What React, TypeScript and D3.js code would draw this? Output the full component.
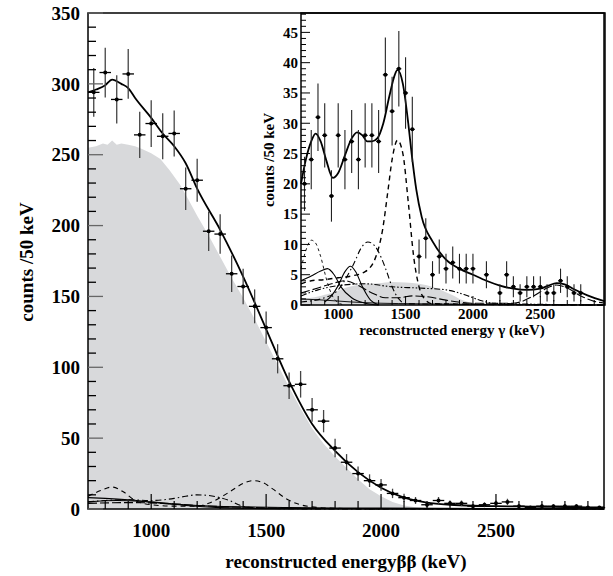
import React from "react";
import * as d3 from "d3";

// ---------- main panel data (ββ channel) ----------
const mainBins = [750, 800, 850, 900, 950, 1000, 1050, 1100, 1150, 1200, 1250, 1300, 1350, 1400, 1450, 1500, 1550, 1600, 1650, 1700, 1750, 1800, 1850, 1900, 1950, 2000, 2050, 2100, 2150, 2200, 2250, 2300, 2350, 2400, 2450, 2500, 2550, 2600, 2650, 2700, 2750, 2800, 2850, 2900, 2950];
const mainCounts = [294, 308, 289, 307, 264, 272, 263, 265, 226, 232, 196, 194, 166, 157, 143, 128, 106, 87, 88, 70, 62, 43, 33, 25, 20, 17, 11, 8, 6, 3, 6, 4, 4, 2, 3, 4, 5, 2, 1, 2, 2, 2, 2, 1, 1];

const mainFitX = [725, 760, 800, 830, 870, 900, 930, 1000, 1050, 1100, 1150, 1200, 1300, 1400, 1500, 1600, 1700, 1800, 1900, 2000, 2100, 2200, 2300, 2400, 2500, 2600, 2700, 2800, 2900, 2970];
const mainFitY = [294, 296, 299, 303, 300, 297, 290, 276, 265, 256, 244, 226, 197, 164, 127, 90, 60, 41, 26, 15, 8, 4.5, 3, 2.3, 2, 1.8, 1.6, 1.4, 1.2, 1.1];

const mainMcX = [725, 760, 790, 810, 830, 850, 870, 900, 930, 960, 1000, 1040, 1080, 1125, 1160, 1200, 1250, 1300, 1350, 1400, 1450, 1500, 1550, 1600, 1650, 1700, 1750, 1800, 1850, 1900, 1950, 2000, 2050, 2100, 2150, 2200, 2250];
const mainMcY = [255, 256, 258, 257, 260, 257, 258, 257, 256, 254, 251, 247, 239, 229, 219, 207, 193, 178, 163, 149, 134, 118, 102, 86, 71, 57, 46, 37, 29, 21, 14, 9, 5, 2.5, 1.2, 0.4, 0];

const mainDashX = [725, 780, 830, 880, 930, 1000, 1100, 1200, 1250, 1300, 1350, 1400, 1440, 1480, 1530, 1580, 1630, 1700, 1800, 2000, 2970];
const mainDashY = [9, 13, 15.5, 12, 6, 3, 2, 2, 4, 8, 13, 18, 20, 19, 14, 8, 4, 1.5, 0.5, 0.2, 0.1];
const mainDashDotX = [725, 800, 900, 1000, 1100, 1150, 1200, 1250, 1300, 1340, 1380, 1420, 1500, 1700, 2970];
const mainDashDotY = [5, 6, 6.5, 6, 7.5, 9, 10, 9.5, 8, 6, 3, 1.2, 0.4, 0.1, 0];
const mainSolidAX = [725, 800, 900, 1000, 1100, 1200, 1400, 1600, 2000, 2500, 2970];
const mainSolidAY = [8, 7.5, 6.5, 5, 3.5, 2.5, 1.5, 1, 0.6, 0.3, 0.2];
const mainSolidBX = [725, 850, 950, 1050, 1150, 1300, 1500, 2970];
const mainSolidBY = [5, 6, 5.5, 4, 2.5, 1, 0.3, 0];
const mainLongDashX = [725, 900, 1050, 1200, 1400, 1700, 2970];
const mainLongDashY = [4, 4.5, 4, 2.5, 1.2, 0.4, 0];

const mainYTicks = [0, 50, 100, 150, 200, 250, 300, 350];
const mainXTicks = [1000, 1500, 2000, 2500];

// ---------- inset data (γ channel) ----------
const insetBins = [750, 800, 850, 900, 950, 1000, 1050, 1100, 1150, 1200, 1250, 1300, 1350, 1400, 1450, 1500, 1550, 1600, 1650, 1700, 1750, 1800, 1850, 1900, 1950, 2000, 2100, 2200, 2250, 2300, 2350, 2400, 2450, 2500, 2550, 2600, 2650, 2700, 2750, 2800];
const insetCounts = [20, 24, 31, 28, 18, 28, 24, 27, 24, 28, 28, 27, 38, 32, 39, 35, 29, 8, 11, 5, 8, 6, 7, 6, 6, 6, 5, 2, 5, 3, 2, 3, 3, 3, 2, 2, 4, 3, 2, 2];

const insetFitX = [724, 760, 800, 832, 870, 910, 960, 1000, 1050, 1100, 1140, 1180, 1215, 1250, 1290, 1335, 1380, 1420, 1440, 1480, 1520, 1545, 1580, 1620, 1700, 1800, 1900, 2000, 2100, 2200, 2300, 2400, 2500, 2560, 2620, 2680, 2750, 2850, 2980];
const insetFitY = [20, 24, 27, 28.3, 27, 24, 21, 21.8, 24.7, 27.5, 28.5, 28, 27, 27, 27.5, 30, 34.5, 38, 38.8, 36.5, 30, 25, 19, 14.5, 10.5, 7.5, 6, 5, 4, 3.2, 2.7, 2.5, 2.7, 3.2, 3.6, 3.4, 2.6, 1.6, 0.6];

const insetDashX = [724, 800, 900, 1000, 1100, 1200, 1280, 1330, 1370, 1400, 1440, 1480, 1520, 1560, 1600, 1650, 1700, 2980];
const insetDashY = [3.5, 4, 4.2, 4.5, 4.8, 5.5, 8, 12.5, 19, 24, 27.2, 25, 17, 8, 3, 0.8, 0.2, 0];
const insetThinDashX = [724, 760, 800, 830, 870, 910, 950, 1000, 1050];
const insetThinDashY = [6, 9, 10.7, 10.3, 8, 4.5, 1.8, 0.4, 0];
const insetDashDotX = [724, 900, 1000, 1060, 1120, 1170, 1220, 1270, 1320, 1360, 1400, 1450, 1500, 2980];
const insetDashDotY = [0.5, 1.2, 2.5, 4.5, 7, 9.4, 10.4, 9.8, 7.8, 5.5, 3, 1, 0.2, 0];
const insetDDotX = [724, 850, 1000, 1200, 1400, 1600, 1800, 1950, 2050, 2150, 2980];
const insetDDotY = [1.5, 2.5, 3.2, 3.5, 3, 2.8, 2.5, 1.6, 0.8, 0.3, 0];
const insetSolidPeakX = [900, 950, 1000, 1050, 1090, 1130, 1180, 1240, 1300];
const insetSolidPeakY = [0.5, 1.5, 3.2, 5.5, 6.4, 5.5, 3, 0.8, 0];
const insetSolidBX = [724, 800, 870, 920, 970, 1020, 1100, 1200, 1300];
const insetSolidBY = [4, 4.8, 5.6, 6, 5, 3, 1.2, 0.3, 0];
const insetLongDashX = [724, 850, 950, 1050, 1150, 1250, 1350, 1450, 1550, 1650, 1800, 2000, 2300, 2450, 2550, 2620, 2700, 2800, 2900, 2980];
const insetLongDashY = [2, 2.8, 3.5, 4, 3.2, 2, 1.2, 1.2, 1.5, 1.4, 0.8, 0.3, 0.3, 1.5, 2.8, 3.3, 2.8, 1.5, 0.6, 0.3];
const insetThinSolidX = [724, 900, 1100, 1300, 1600, 2000, 2980];
const insetThinSolidY = [1, 0.8, 0.5, 0.3, 0.2, 0.1, 0];
const insetMcX = [724, 800, 850, 900, 950, 1000, 1050, 1100, 1150, 1200, 1300, 1400, 1500, 1600, 1700, 1750, 1800, 1850, 1900, 1950, 2000, 2050];
const insetMcY = [1, 1.2, 1.4, 1.7, 2.0, 2.4, 2.8, 3.1, 3.3, 3.5, 3.6, 3.8, 3.7, 3.5, 3.0, 2.6, 2.1, 1.6, 1.0, 0.6, 0.2, 0];

const insetYTicks = [0, 5, 10, 15, 20, 25, 30, 35, 40, 45];
const insetXTicks = [1000, 1500, 2000, 2500];

const FONT = "'Liberation Serif', 'DejaVu Serif', serif";

function zip(xs: number[], ys: number[]) {
  return xs.map((x, i) => [x, ys[i]] as [number, number]);
}

export default function App() {
  const W = 613, H = 576;
  // main
  const mx = d3.scaleLinear().domain([725, 2970]).range([88, 604]);
  const my = d3.scaleLinear().domain([0, 350]).range([509, 13]);
  const mLine = d3.line<[number, number]>().x(d => mx(d[0])).y(d => my(Math.max(0, d[1]))).curve(d3.curveMonotoneX);
  const mArea = d3.area<[number, number]>().x(d => mx(d[0])).y0(my(0)).y1(d => my(d[1])).curve(d3.curveLinear);
  // inset
  const ix = d3.scaleLinear().domain([724, 2980]).range([301, 605]);
  const iy = d3.scaleLinear().domain([0, 48.2]).range([305, 13]);
  const iLine = d3.line<[number, number]>().x(d => ix(d[0])).y(d => iy(Math.max(0, d[1]))).curve(d3.curveMonotoneX);
  const iArea = d3.area<[number, number]>().x(d => ix(d[0])).y0(iy(0)).y1(d => iy(d[1])).curve(d3.curveMonotoneX);

  const mMinorY = d3.range(0, 351, 10);
  const mMinorX = d3.range(800, 2970, 100);
  const iMinorY = d3.range(0, 49, 1);
  const iMinorX = d3.range(800, 2980, 100);

  const [m0, m1] = my.range();
  const [i0, i1] = iy.range();

  return (
    <svg width={W} height={H} style={{ position: "absolute", left: 0, top: 0 }}>
      <rect x={0} y={0} width={W} height={H} fill="#fff" />
      {/* ===== main ===== */}
      <path d={mArea(zip(mainMcX, mainMcY)) || ""} fill="#d8d9db" />
      <g fill="none" stroke="#000" strokeWidth={1.1}>
        <path d={mLine(zip(mainDashX, mainDashY)) || ""} strokeDasharray="5,4" />
        <path d={mLine(zip(mainDashDotX, mainDashDotY)) || ""} strokeDasharray="6,3,1.5,3" />
        <path d={mLine(zip(mainSolidAX, mainSolidAY)) || ""} />
        <path d={mLine(zip(mainSolidBX, mainSolidBY)) || ""} />
        <path d={mLine(zip(mainLongDashX, mainLongDashY)) || ""} strokeDasharray="9,3" />
      </g>
      <path d={mLine(zip(mainFitX, mainFitY)) || ""} fill="none" stroke="#000" strokeWidth={1.8} />
      {mainBins.map((b, i) => {
        const v = mainCounts[i];
        const e = Math.sqrt(v);
        return (
          <g key={"m" + b}>
            <line x1={mx(b)} x2={mx(b)} y1={my(Math.max(0, v - e))} y2={my(v + e)} stroke="#444" strokeWidth={1.3} />
            <line x1={mx(b - 25)} x2={mx(b + 25)} y1={my(v)} y2={my(v)} stroke="#000" strokeWidth={1.3} />
            <circle cx={mx(b)} cy={my(v)} r={2} fill="#000" />
          </g>
        );
      })}
      {/* main frame and ticks */}
      <rect x={88} y={m1} width={604 - 88} height={m0 - m1} fill="none" stroke="#000" strokeWidth={1.5} />
      {mMinorY.map(t => (
        <line key={"my" + t} x1={88} x2={88 + (t % 50 === 0 ? 15 : 8)} y1={my(t)} y2={my(t)} stroke={t % 50 === 0 ? "#666" : "#000"} strokeWidth={1.3} />
      ))}
      {mMinorX.map(t => (
        <line key={"mx" + t} x1={mx(t)} x2={mx(t)} y1={m0} y2={m0 - (t % 500 === 0 ? 15 : 8)} stroke="#000" strokeWidth={1.2} />
      ))}
      {mainYTicks.map(t => (
        <text key={"myl" + t} x={80} y={my(t)} dy="0.35em" textAnchor="end" fontFamily={FONT} fontWeight="bold" fontSize={19}>{t}</text>
      ))}
      {mainXTicks.map(t => (
        <text key={"mxl" + t} x={mx(t)} y={537} textAnchor="middle" fontFamily={FONT} fontWeight="bold" fontSize={19}>{t}</text>
      ))}
      <text x={346} y={568} textAnchor="middle" fontFamily={FONT} fontWeight="bold" fontSize={19}>reconstructed energyββ (keV)</text>
      <text transform="translate(33,262) rotate(-90)" textAnchor="middle" fontFamily={FONT} fontWeight="bold" fontSize={19}>counts /50 keV</text>

      {/* ===== inset ===== */}
      <path d={iArea(zip(insetMcX, insetMcY)) || ""} fill="#d8d9db" />
      <g fill="none" stroke="#000" strokeWidth={1.1}>
        <path d={iLine(zip(insetThinSolidX, insetThinSolidY)) || ""} strokeWidth={0.9} />
        <path d={iLine(zip(insetDDotX, insetDDotY)) || ""} strokeDasharray="6,2,1.5,2,1.5,2" />
        <path d={iLine(zip(insetLongDashX, insetLongDashY)) || ""} strokeDasharray="9,3" />
        <path d={iLine(zip(insetSolidBX, insetSolidBY)) || ""} />
        <path d={iLine(zip(insetSolidPeakX, insetSolidPeakY)) || ""} />
        <path d={iLine(zip(insetDashDotX, insetDashDotY)) || ""} strokeDasharray="6,3,1.5,3" />
        <path d={iLine(zip(insetThinDashX, insetThinDashY)) || ""} strokeDasharray="3,3" strokeWidth={0.9} />
        <path d={iLine(zip(insetDashX, insetDashY)) || ""} strokeDasharray="5,4" strokeWidth={1.4} />
      </g>
      <path d={iLine(zip(insetFitX, insetFitY)) || ""} fill="none" stroke="#000" strokeWidth={1.8} />
      {insetBins.map((b, i) => {
        const v = insetCounts[i];
        const e = Math.sqrt(v);
        return (
          <g key={"i" + b}>
            <line x1={ix(b)} x2={ix(b)} y1={iy(Math.max(0, v - e))} y2={iy(v + e)} stroke="#222" strokeWidth={1.1} />
            <line x1={ix(b) - 2.5} x2={ix(b) + 2.5} y1={iy(v)} y2={iy(v)} stroke="#000" strokeWidth={1.1} />
            <circle cx={ix(b)} cy={iy(v)} r={2} fill="#000" />
          </g>
        );
      })}
      <rect x={301} y={i1} width={605 - 301} height={i0 - i1} fill="none" stroke="#000" strokeWidth={1.5} />
      {iMinorY.map(t => (
        <line key={"iy" + t} x1={301} x2={301 + (t % 5 === 0 ? 9 : 5)} y1={iy(t)} y2={iy(t)} stroke="#000" strokeWidth={1} />
      ))}
      {iMinorX.map(t => (
        <line key={"ix" + t} x1={ix(t)} x2={ix(t)} y1={i0} y2={i0 - (t % 500 === 0 ? 9 : 5)} stroke="#000" strokeWidth={1} />
      ))}
      {insetYTicks.map(t => (
        <text key={"iyl" + t} x={298} y={iy(t)} dy="0.35em" textAnchor="end" fontFamily={FONT} fontWeight="bold" fontSize={15}>{t}</text>
      ))}
      {insetXTicks.map(t => (
        <text key={"ixl" + t} x={ix(t)} y={319} textAnchor="middle" fontFamily={FONT} fontWeight="bold" fontSize={15}>{t}</text>
      ))}
      <text x={452} y={335} textAnchor="middle" fontFamily={FONT} fontWeight="bold" fontSize={15}>reconstructed energy  γ (keV)</text>
      <text transform="translate(274,160) rotate(-90)" textAnchor="middle" fontFamily={FONT} fontWeight="bold" fontSize={15}>counts /50 keV</text>
    </svg>
  );
}
